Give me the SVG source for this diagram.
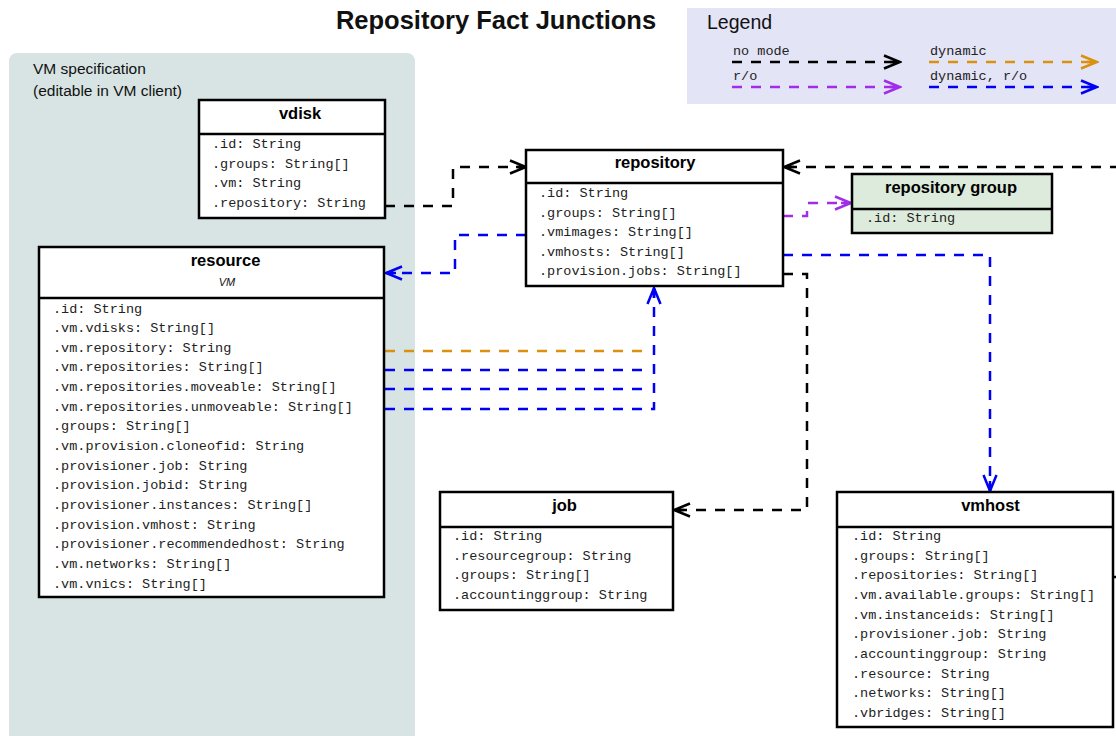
<svg xmlns="http://www.w3.org/2000/svg" width="1116" height="736" viewBox="0 0 1116 736">
<style>
.box{fill:#fff;stroke:#000;stroke-width:2.5}
.sep{stroke:#000;stroke-width:2.5}
.ttl{font-family:"Liberation Sans",Arial,sans-serif;font-weight:bold;font-size:16.5px;text-anchor:middle;fill:#000}
.fld{font-family:"Liberation Mono","Courier New",monospace;font-size:13.5px;fill:#222}
.lbl{font-family:"Liberation Sans",Arial,sans-serif;fill:#111}
.c{fill:none;stroke-width:2.5;stroke-dasharray:10,9}
.k{stroke:#000}.o{stroke:#d9910f}.p{stroke:#a22de8}.b{stroke:#0000f5}
.lg{font-family:"Liberation Mono","Courier New",monospace;font-size:13.5px;fill:#222}
</style>
<defs>
<marker id="ak" viewBox="-18 -8 20 16" refX="0" refY="0" markerWidth="20" markerHeight="16" markerUnits="userSpaceOnUse" orient="auto"><path d="M-16,-6.5 L0,0 L-16,6.5 M-10,0 H0" fill="none" stroke="#000" stroke-width="2.5"/></marker>
<marker id="ao" viewBox="-18 -8 20 16" refX="0" refY="0" markerWidth="20" markerHeight="16" markerUnits="userSpaceOnUse" orient="auto"><path d="M-16,-6.5 L0,0 L-16,6.5 M-10,0 H0" fill="none" stroke="#d9910f" stroke-width="2.5"/></marker>
<marker id="ap" viewBox="-18 -8 20 16" refX="0" refY="0" markerWidth="20" markerHeight="16" markerUnits="userSpaceOnUse" orient="auto"><path d="M-16,-6.5 L0,0 L-16,6.5 M-10,0 H0" fill="none" stroke="#a22de8" stroke-width="2.5"/></marker>
<marker id="ab" viewBox="-18 -8 20 16" refX="0" refY="0" markerWidth="20" markerHeight="16" markerUnits="userSpaceOnUse" orient="auto"><path d="M-16,-6.5 L0,0 L-16,6.5 M-10,0 H0" fill="none" stroke="#0000f5" stroke-width="2.5"/></marker>
</defs>
<rect width="1116" height="736" fill="#fff"/>
<text x="496" y="29" class="lbl" font-size="25.5" font-weight="bold" text-anchor="middle" fill="#000">Repository Fact Junctions</text>

<g id="legend">
<rect x="687" y="8" width="440" height="96" fill="#e4e4f7"/>
<text x="707" y="29" class="lbl" font-size="19.5">Legend</text>
<text x="733" y="55" class="lg">no mode</text>
<text x="930" y="55" class="lg">dynamic</text>
<text x="733" y="80" class="lg">r/o</text>
<text x="930" y="80" class="lg">dynamic, r/o</text>
<path class="c k" d="M732,62 H900" marker-end="url(#ak)"/>
<path class="c o" d="M929,62 H1097" marker-end="url(#ao)"/>
<path class="c p" d="M732,87 H900" marker-end="url(#ap)"/>
<path class="c b" d="M929,87 H1097" marker-end="url(#ab)"/>
</g>

<g id="vm-spec">
<rect x="9" y="53" width="406" height="720" rx="8" fill="#d7e4e3"/>
<text x="33" y="74" class="lbl" font-size="15.5">VM specification</text>
<text x="33" y="96" class="lbl" font-size="15.5">(editable in VM client)</text>
</g>

<g id="connectors">
<path class="c k" d="M385,206 H453 V167 H526" marker-end="url(#ak)"/>
<path class="c b" d="M526,235 H455 V273 H386" marker-end="url(#ab)"/>
<path class="c p" d="M783,216 H807 V203 H851" marker-end="url(#ap)"/>
<path class="c b" d="M783,255 H990 V491" marker-end="url(#ab)"/>
<path class="c k" d="M783,274 H807 V510 H674" marker-end="url(#ak)"/>
<path class="c k" d="M1120,167 H784" marker-end="url(#ak)"/>
<path d="M1113,577 H1120" stroke="#000" stroke-width="2.5"/>
<path class="c o" d="M385,351 H650"/>
<path class="c b" d="M385,370 H650"/>
<path class="c b" d="M385,389 H650"/>
<path class="c b" d="M385,409 H654 V288" marker-end="url(#ab)"/>
</g>

<g id="vdisk">
<rect class="box" x="199" y="100" width="186" height="118"/>
<line class="sep" x1="199" y1="134" x2="385" y2="134"/>
<text class="ttl" x="300" y="119">vdisk</text>
<text class="fld" x="212" y="148">.id: String</text>
<text class="fld" x="212" y="168">.groups: String[]</text>
<text class="fld" x="212" y="187">.vm: String</text>
<text class="fld" x="212" y="207">.repository: String</text>
</g>

<g id="resource">
<rect class="box" x="39" y="247" width="345" height="350"/>
<line class="sep" x1="39" y1="298" x2="384" y2="298"/>
<text class="ttl" x="225.5" y="266" font-size="17">resource</text>
<text x="227" y="286" class="lbl" font-size="11" font-style="italic" text-anchor="middle">VM</text>
<text class="fld" x="53" y="312.5">.id: String</text>
<text class="fld" x="53" y="332.1">.vm.vdisks: String[]</text>
<text class="fld" x="53" y="351.8">.vm.repository: String</text>
<text class="fld" x="53" y="371.4">.vm.repositories: String[]</text>
<text class="fld" x="53" y="391.1">.vm.repositories.moveable: String[]</text>
<text class="fld" x="53" y="410.7">.vm.repositories.unmoveable: String[]</text>
<text class="fld" x="53" y="430.4">.groups: String[]</text>
<text class="fld" x="53" y="450">.vm.provision.cloneofid: String</text>
<text class="fld" x="53" y="469.6">.provisioner.job: String</text>
<text class="fld" x="53" y="489.3">.provision.jobid: String</text>
<text class="fld" x="53" y="508.9">.provisioner.instances: String[]</text>
<text class="fld" x="53" y="528.6">.provision.vmhost: String</text>
<text class="fld" x="53" y="548.2">.provisioner.recommendedhost: String</text>
<text class="fld" x="53" y="567.9">.vm.networks: String[]</text>
<text class="fld" x="53" y="587.5">.vm.vnics: String[]</text>
</g>

<g id="repository">
<rect class="box" x="526" y="150" width="257" height="136"/>
<line class="sep" x1="526" y1="183" x2="783" y2="183"/>
<text class="ttl" x="655" y="168">repository</text>
<text class="fld" x="539" y="197">.id: String</text>
<text class="fld" x="539" y="217">.groups: String[]</text>
<text class="fld" x="539" y="236">.vmimages: String[]</text>
<text class="fld" x="539" y="256">.vmhosts: String[]</text>
<text class="fld" x="539" y="275">.provision.jobs: String[]</text>
</g>

<g id="repository-group">
<rect x="852" y="174" width="200" height="59" fill="#dcebdc" stroke="#000" stroke-width="2.5"/>
<line class="sep" x1="852" y1="209" x2="1052" y2="209"/>
<text class="ttl" x="951" y="193">repository group</text>
<text class="fld" x="866" y="222">.id: String</text>
</g>

<g id="job">
<rect class="box" x="440" y="492" width="233" height="118"/>
<line class="sep" x1="440" y1="527" x2="673" y2="527"/>
<text class="ttl" x="564.5" y="511">job</text>
<text class="fld" x="453" y="540">.id: String</text>
<text class="fld" x="453" y="560">.resourcegroup: String</text>
<text class="fld" x="453" y="579">.groups: String[]</text>
<text class="fld" x="453" y="599">.accountinggroup: String</text>
</g>

<g id="vmhost">
<rect class="box" x="837" y="492" width="276" height="235"/>
<line class="sep" x1="837" y1="527" x2="1113" y2="527"/>
<text class="ttl" x="990.5" y="511">vmhost</text>
<text class="fld" x="852" y="540">.id: String</text>
<text class="fld" x="852" y="559.7">.groups: String[]</text>
<text class="fld" x="852" y="579.3">.repositories: String[]</text>
<text class="fld" x="852" y="599">.vm.available.groups: String[]</text>
<text class="fld" x="852" y="618.7">.vm.instanceids: String[]</text>
<text class="fld" x="852" y="638.3">.provisioner.job: String</text>
<text class="fld" x="852" y="658">.accountinggroup: String</text>
<text class="fld" x="852" y="677.7">.resource: String</text>
<text class="fld" x="852" y="697.3">.networks: String[]</text>
<text class="fld" x="852" y="717">.vbridges: String[]</text>
</g>
</svg>
